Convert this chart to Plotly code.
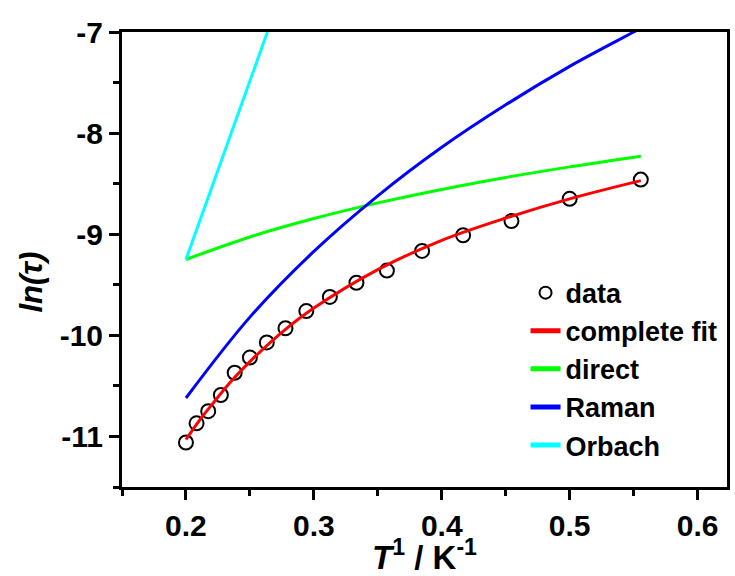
import plotly.graph_objects as go

# measured data (x = 1/T)
x_data = [0.2, 0.2083, 0.2174, 0.2273, 0.2381, 0.25, 0.2632, 0.2778, 0.2941,
          0.3125, 0.3333, 0.3571, 0.3846, 0.4167, 0.4545, 0.5, 0.5556]
y_data = [-11.06, -10.87, -10.75, -10.59, -10.37, -10.22, -10.07, -9.93, -9.76,
          -9.62, -9.48, -9.36, -9.165, -9.01, -8.87, -8.65, -8.46]

# fit curves
x_fit = [0.2, 0.21, 0.22, 0.235, 0.25, 0.275, 0.3, 0.35, 0.4, 0.45, 0.5, 0.5556]
y_fit = [-11.03, -10.85, -10.69, -10.46, -10.26, -9.97, -9.73, -9.35, -9.06, -8.84, -8.65, -8.47]

x_direct = [0.2, 0.25, 0.3, 0.35, 0.4, 0.45, 0.5, 0.5556]
y_direct = [-9.25, -9.027, -8.845, -8.69, -8.557, -8.439, -8.334, -8.228]

x_raman = [0.2, 0.25, 0.3, 0.35, 0.4, 0.45, 0.5, 0.55, 0.5556]
y_raman = [-10.62, -9.82, -9.17, -8.62, -8.14, -7.72, -7.34, -7.0, -6.96]

x_orbach = [0.2, 0.23, 0.2637]
y_orbach = [-9.25, -8.19, -7.0]

x_tickvals = [0.2, 0.3, 0.4, 0.5, 0.6]
x_ticktext = ["0.2", "0.3", "0.4", "0.5", "0.6"]
y_tickvals = [-11, -10, -9, -8, -7]
y_ticktext = ["-11", "-10", "-9", "-8", "-7"]

FONT = "Liberation Sans, Arial, sans-serif"

fig = go.Figure()
fig.add_trace(go.Scatter(x=x_data, y=y_data, mode="markers", name="data",
                         marker=dict(symbol="circle-open", size=14, color="black",
                                     line=dict(width=2, color="black"))))
fig.add_trace(go.Scatter(x=x_fit, y=y_fit, mode="lines", name="complete fit",
                         line=dict(color="#ff0000", width=3, shape="spline")))
fig.add_trace(go.Scatter(x=x_direct, y=y_direct, mode="lines", name="direct",
                         line=dict(color="#00ff00", width=3, shape="spline")))
fig.add_trace(go.Scatter(x=x_raman, y=y_raman, mode="lines", name="Raman",
                         line=dict(color="#0000ff", width=3, shape="spline")))
fig.add_trace(go.Scatter(x=x_orbach, y=y_orbach, mode="lines", name="Orbach",
                         line=dict(color="#00ffff", width=3)))

axis_common = dict(showline=True, linewidth=3, linecolor="black", mirror=True,
                   ticks="outside", ticklen=10, tickwidth=2.5, tickcolor="black",
                   showgrid=False, zeroline=False,
                   tickfont=dict(family=FONT, size=30, color="black"))

fig.update_xaxes(range=[0.15, 0.623], tickmode="array", tickvals=x_tickvals,
                 ticktext=["<b>%s</b>" % t for t in x_ticktext],
                 minor=dict(ticks="outside", ticklen=6, tickwidth=2.5, tickcolor="black",
                            dtick=0.05, tick0=0.15),
                 title=dict(text="<b><i>T</i><sup>1</sup> / K<sup>-1</sup></b>",
                            font=dict(family=FONT, size=33, color="black"), standoff=6),
                 **axis_common)
fig.update_yaxes(range=[-11.5, -7], tickmode="array", tickvals=y_tickvals,
                 ticktext=["<b>%s</b>" % t for t in y_ticktext],
                 minor=dict(ticks="outside", ticklen=6, tickwidth=2.5, tickcolor="black",
                            dtick=0.5, tick0=-11.5),
                 **axis_common)

fig.add_annotation(text="<b><i>ln(τ)</i></b>", xref="paper", yref="paper",
                   x=-0.15, xanchor="center", y=0.45, yanchor="middle",
                   textangle=-90, showarrow=False,
                   font=dict(family=FONT, size=31, color="black"))

fig.update_layout(
    width=735, height=576,
    margin=dict(l=122, r=5, t=32, b=87),
    paper_bgcolor="white", plot_bgcolor="white",
    showlegend=True,
    legend=dict(x=0.667, y=0.48, xanchor="left", yanchor="top",
                bgcolor="rgba(0,0,0,0)", borderwidth=0, tracegroupgap=0,
                font=dict(family=FONT, size=27, color="black", weight="bold"),
                itemsizing="constant"),
)

fig.write_html("out.html")
